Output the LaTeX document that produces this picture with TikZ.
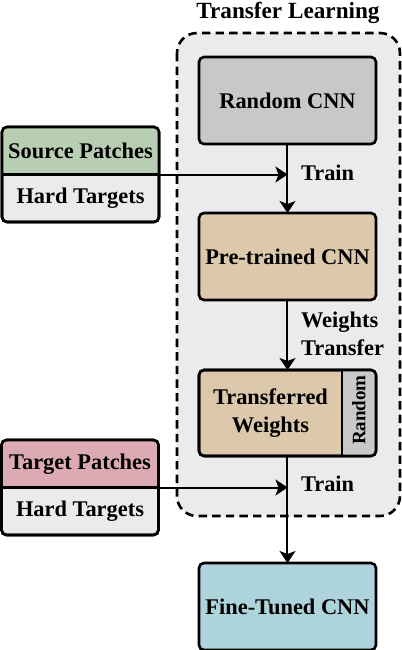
\documentclass[tikz,border=0pt]{standalone}
\usepackage{fontspec}
\setmainfont{Liberation Serif}
\usepackage{tikz}
\usetikzlibrary{arrows.meta, positioning}

\definecolor{boxgray}{RGB}{200,200,200}
\definecolor{boxtan}{RGB}{220,200,170}
\definecolor{boxgreen}{RGB}{184,206,179}
\definecolor{boxpink}{RGB}{220,170,178}
\definecolor{boxteal}{RGB}{172,212,218}
\definecolor{bglight}{RGB}{235,235,235}

\newcommand{\diagfont}{\bfseries\fontsize{11.2}{14}\selectfont}

\tikzset{
  cnn/.style = {draw, line width=1.3pt, outer sep=0pt, inner sep=0pt, rounded corners=2.5pt, minimum width=88.5pt, minimum height=43.5pt, font=\diagfont},
  databox/.style = {draw, line width=1.3pt, outer sep=0pt, rounded corners=2.5pt, minimum width=78.5pt, minimum height=47.5pt},
  lbl/.style = {font=\diagfont, align=left},
  flow/.style = {line width=1pt, -{Stealth[length=6pt,width=8pt,inset=1.5pt]}},
}

\begin{document}
\begin{tikzpicture}[x=0.5pt, y=-0.5pt]
\useasboundingbox (0,0) rectangle (402,650);

% transfer learning frame
\draw[fill=bglight, line width=1.3pt, dash pattern=on 4.2pt off 2.6pt, rounded corners=10pt] (177,33) rectangle (400,516);
\node[font=\bfseries\fontsize{11.6}{14}\selectfont] at (288,13) (title) {Transfer Learning};

% networks
\node[cnn, fill=boxgray] at (287.5,100.5) (rand) {Random CNN};
\node[cnn, fill=boxtan] at (287.5,256.5) (pre) {Pre-trained CNN};
\node[cnn, fill=boxtan, minimum height=43pt] at (287.5,413) (trans) {};
\begin{scope}
\clip[rounded corners=2.5pt] (trans.south west) rectangle (trans.north east);
\fill[boxgray] (342,370) rectangle (377,457);
\end{scope}
\draw[line width=1.3pt, rounded corners=2.5pt] (trans.south west) rectangle (trans.north east);
\draw[line width=1.3pt] (342,370) -- (342,456);
\node[font=\diagfont, align=center] at (270.5,413) (transtxt) {Transferred\\Weights};
\node[font=\bfseries\fontsize{9.5}{11}\selectfont, rotate=90] at (359,410) (randtxt) {Random};
\node[cnn, fill=boxteal] at (287.5,606.5) (fine) {Fine-Tuned CNN};

% data
\node[databox, fill=bglight] at (80.5,174.5) (src) {};
\begin{scope}
\clip[rounded corners=2.5pt] (src.south west) rectangle (src.north east);
\fill[boxgreen] (0,126) rectangle (161,174.5);
\end{scope}
\draw[line width=1.3pt, rounded corners=2.5pt] (src.south west) rectangle (src.north east);
\node[font=\diagfont] at (80.5,151) (srcp) {Source Patches};
\node[font=\diagfont] at (80.5,198) (srch) {Hard Targets};

\node[databox, fill=bglight] at (80,487.5) (tgt) {};
\begin{scope}
\clip[rounded corners=2.5pt] (tgt.south west) rectangle (tgt.north east);
\fill[boxpink] (0,439) rectangle (161,487.5);
\end{scope}
\draw[line width=1.3pt, rounded corners=2.5pt] (tgt.south west) rectangle (tgt.north east);
\node[font=\diagfont] at (80,464) (tgtp) {Target Patches};
\node[font=\diagfont] at (80,511) (tgth) {Hard Targets};

% arrows
\coordinate (m1) at (rand.south |- src.east);
\coordinate (m2) at (trans.south |- tgt.east);
\draw[flow] (rand) -- (pre);
\draw[flow] (pre) -- (trans);
\draw[flow] (trans) -- (fine);
\draw[line width=1.2pt] (src.west) -- (src.east);
\draw[flow] (src.east) -- (m1);
\draw[line width=1.2pt] (tgt.west) -- (tgt.east);
\draw[flow] (tgt.east) -- (m2);

\node[lbl, anchor=west] at (294,173) (tr1) {Train};
\node[lbl, anchor=west] at (294,334) (wt) {Weights\\Transfer};
\node[lbl, anchor=west] at (294,484) (tr2) {Train};
\end{tikzpicture}
\end{document}
